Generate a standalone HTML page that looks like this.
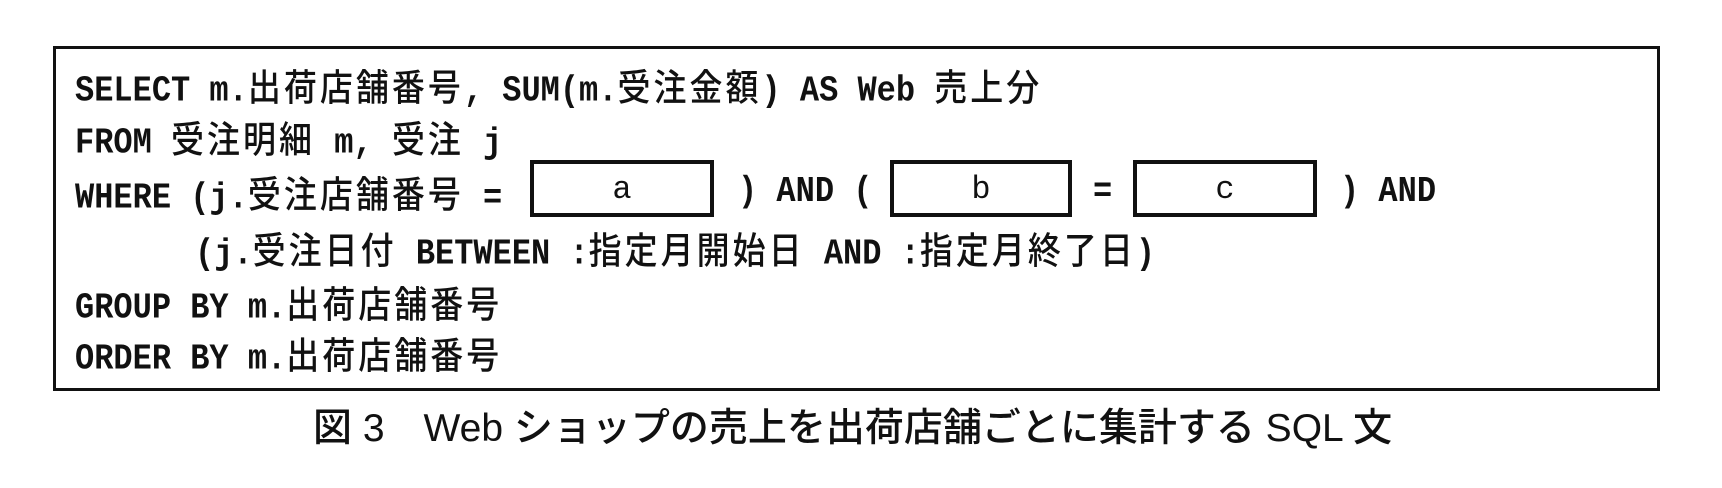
<!DOCTYPE html>
<html><head><meta charset="utf-8"><style>
html,body{margin:0;padding:0;background:#fff;}
body{width:1722px;height:488px;position:relative;overflow:hidden;color:#111;}
.box{position:absolute;left:53px;top:46px;width:1601px;height:339px;border:3px solid #111;}
.l{position:absolute;left:75px;height:40px;line-height:40px;white-space:pre;font-family:"Liberation Mono","Noto Sans CJK JP",monospace;font-size:32px;font-weight:bold;transform:scaleY(1.12);transform-origin:0 50%;}
.j{font-family:"Noto Sans CJK JP",sans-serif;font-size:33px;letter-spacing:3px;font-weight:500;}
.b{position:absolute;border:4px solid #111;height:57px;box-sizing:border-box;top:160px;text-align:center;line-height:52px;font-family:"Liberation Mono",monospace;font-size:32px;}
.cap{position:absolute;left:313px;top:406px;font-family:"Liberation Sans","Noto Sans CJK JP",sans-serif;font-size:39px;font-weight:500;white-space:pre;line-height:46px;}
</style></head><body>
<div class="box"></div>
<div class="l" style="top:65px">SELECT m.<span class="j">出荷店舗番号</span>, SUM(m.<span class="j">受注金額</span>) AS Web <span class="j">売上分</span></div>
<div class="l" style="top:117px">FROM <span class="j">受注明細</span> m, <span class="j">受注</span> j</div>
<div class="l" style="top:172px">WHERE (j.<span class="j">受注店舗番号</span> =</div>
<div class="b" style="left:530px;width:184px;">a</div>
<div class="l" style="top:172px;left:738px">) AND (</div>
<div class="b" style="left:890px;width:182px;">b</div>
<div class="l" style="top:172px;left:1093px">=</div>
<div class="b" style="left:1133px;width:184px;">c</div>
<div class="l" style="top:172px;left:1340px">) AND</div>
<div class="l" style="top:228px;left:195px">(j.<span class="j">受注日付</span> BETWEEN :<span class="j">指定月開始日</span> AND :<span class="j">指定月終了日</span>)</div>
<div class="l" style="top:282px">GROUP BY m.<span class="j">出荷店舗番号</span></div>
<div class="l" style="top:333px">ORDER BY m.<span class="j">出荷店舗番号</span></div>
<div class="cap">図 3　Web ショップの売上を出荷店舗ごとに集計する SQL 文</div>
</body></html>
